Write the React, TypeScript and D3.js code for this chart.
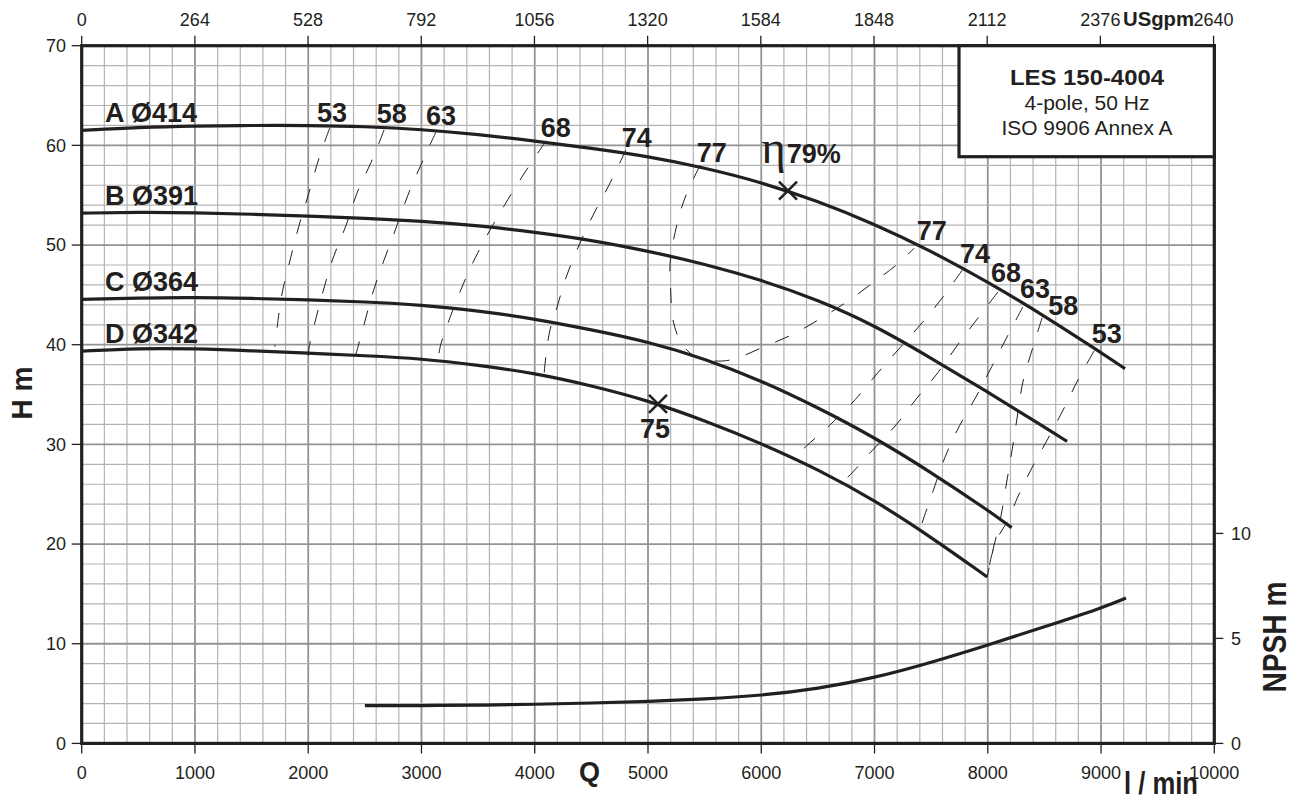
import React, { useEffect } from 'react';
import * as d3 from 'd3';

// ---------- axis ticks ----------
const flowTicks = [0, 1000, 2000, 3000, 4000, 5000, 6000, 7000, 8000, 9000, 10000];
const usgpmTicks = [0, 264, 528, 792, 1056, 1320, 1584, 1848, 2112, 2376, 2640];
const headTicks = [0, 10, 20, 30, 40, 50, 60, 70];
const npshTicks = [0, 5, 10];

// ---------- head curves [Q l/min, H m] ----------
const curveA: [number, number][] = [
  [0, 61.5], [500, 61.8], [1000, 61.95], [1500, 62.0], [2000, 62.0], [2500, 61.9], [3000, 61.6],
  [3500, 61.1], [4000, 60.45], [4500, 59.7], [5000, 58.9], [5500, 57.75], [6000, 56.3], [6500, 54.4],
  [7000, 52.1], [7500, 49.4], [8000, 46.3], [8500, 42.9], [9000, 39.2], [9212, 37.6],
];
const curveB: [number, number][] = [
  [0, 53.2], [500, 53.3], [1000, 53.25], [1500, 53.1], [2000, 52.9], [2500, 52.7], [3000, 52.4],
  [3500, 51.95], [4000, 51.3], [4500, 50.5], [5000, 49.4], [5500, 48.1], [6000, 46.5], [6500, 44.5],
  [7000, 41.95], [7500, 38.65], [8000, 35.25], [8500, 31.75], [8700, 30.3],
];
const curveC: [number, number][] = [
  [0, 44.55], [500, 44.7], [1000, 44.75], [1500, 44.65], [2000, 44.5], [2500, 44.3], [3000, 44.0],
  [3500, 43.4], [4000, 42.6], [4500, 41.5], [5000, 40.3], [5500, 38.6], [6000, 36.4], [6500, 33.7],
  [7000, 30.7], [7500, 27.2], [8000, 23.4], [8211, 21.65],
];
const curveD: [number, number][] = [
  [0, 39.35], [500, 39.65], [1000, 39.6], [1500, 39.4], [2000, 39.15], [2500, 38.9], [3000, 38.6],
  [3500, 37.95], [4000, 37.15], [4500, 35.9], [5000, 34.4], [5500, 32.4], [6000, 30.1], [6500, 27.5],
  [7000, 24.4], [7500, 20.7], [7995, 16.7],
];
const headLabels = ['A Ø414', 'B Ø391', 'C Ø364', 'D Ø342'];
const headLabelH = [62.38, 54.02, 45.39, 40.18];

// ---------- NPSH curve [Q l/min, NPSH m] ----------
const npshCurve: [number, number][] = [
  [2500, 1.8], [3000, 1.8], [3500, 1.82], [4000, 1.86], [4500, 1.92], [5000, 2.0], [5500, 2.11],
  [6000, 2.28], [6500, 2.6], [7000, 3.12], [7500, 3.85], [8000, 4.68], [8500, 5.55], [9000, 6.43], [9220, 6.92],
];

// ---------- iso-efficiency lines [Q, H] ----------
const eff53Left: [number, number][] = [[2190, 61.75], [2095, 58.7], [2005, 55.2], [1920, 52.0], [1840, 48.5], [1770, 45.2], [1725, 41.7], [1705, 39.8]];
const eff58Left: [number, number][] = [[2670, 61.55], [2555, 58.3], [2430, 55.2], [2335, 52.0], [2220, 48.7], [2130, 45.3], [2050, 41.8], [2005, 39.5], [2000, 38.0]];
const eff63Left: [number, number][] = [[3130, 61.4], [3005, 58.3], [2880, 55.0], [2775, 51.7], [2670, 48.5], [2570, 45.2], [2485, 41.7], [2420, 39.0], [2395, 38.0]];
const eff68Left: [number, number][] = [[4100, 60.45], [3925, 57.5], [3765, 54.6], [3605, 51.5], [3465, 48.5], [3340, 45.3], [3235, 42.2], [3170, 40.0], [3130, 37.5]];
const eff74Left: [number, number][] = [[4805, 59.55], [4655, 56.0], [4515, 53.0], [4380, 49.7], [4275, 46.7], [4190, 43.5], [4135, 41.5], [4100, 39.0], [4075, 36.1]];
const eff77Loop: [number, number][] = [
  [5460, 58.0], [5325, 54.7], [5240, 51.3], [5195, 48.2], [5200, 45.5], [5220, 42.5], [5280, 40.5],
  [5390, 39.0], [5565, 38.4], [5740, 38.5], [6005, 39.7], [6270, 41.0], [6520, 42.6], [6755, 44.3],
  [6985, 46.2], [7225, 48.3], [7350, 49.7],
];
const eff74Right: [number, number][] = [[7775, 47.5], [7605, 44.8], [7420, 42.2], [7225, 39.7], [7030, 37.2], [6830, 34.5], [6625, 32.15], [6400, 29.85], [6300, 28.75]];
const eff68Right: [number, number][] = [[8090, 45.3], [7915, 42.7], [7735, 40.0], [7560, 37.2], [7375, 34.65], [7190, 31.95], [6985, 29.45], [6785, 26.95], [6675, 25.75]];
const eff63Right: [number, number][] = [[8310, 43.8], [8180, 41.0], [8035, 37.8], [7895, 34.75], [7745, 31.75], [7620, 28.65], [7515, 25.25], [7420, 22.1], [7395, 21.1]];
const eff58Right: [number, number][] = [[8480, 42.7], [8400, 39.8], [8310, 36.25], [8260, 32.75], [8215, 29.45], [8160, 25.75], [8110, 22.4], [8045, 19.4], [7995, 16.7]];
const eff53Right: [number, number][] = [[8940, 39.4], [8795, 36.45], [8665, 33.45], [8525, 30.45], [8390, 27.65], [8260, 24.6], [8180, 22.4], [8090, 20.7], [8035, 18.9], [7995, 16.7]];

// efficiency labels: text, Q, H (anchor = left baseline)
const effLabelText = ['53', '58', '63', '68', '74', '77', '77', '74', '68', '63', '58', '53', '75'];
const effLabelQ = [2077, 2605, 3040, 4053, 4768, 5430, 7372, 7755, 8028, 8284, 8534, 8917, 4929];
const effLabelH = [62.38, 62.28, 62.05, 60.88, 59.87, 58.37, 50.51, 48.17, 46.33, 44.66, 42.99, 40.15, 30.61];

// best efficiency points
const bepPoints: [number, number][] = [[6236, 55.46], [5088, 34.06]];

const legendLines = ['LES 150-4004', '4-pole, 50 Hz', 'ISO 9906 Annex A'];

const INK = '#231f20';
const FONT = '"Liberation Sans", Arial, Helvetica, sans-serif';

export default function App() {
  useEffect(() => {
    document.body.style.margin = '0';
    document.body.style.overflow = 'hidden';
  }, []);

  const X0 = 81.7, X1 = 1214.3, Y0 = 743.4, Y1 = 45.7;
  const x = d3.scaleLinear().domain([0, 10000]).range([X0, X1]);
  const xUS = d3.scaleLinear().domain([0, 10000 * 0.264172]).range([X0, X1]);
  const y = d3.scaleLinear().domain([0, 70]).range([Y0, Y1]);
  const yN = d3.scaleLinear().domain([0, (Y0 - Y1) / 21.0]).range([Y0, Y1]);

  const headLine = d3.line<[number, number]>().x(d => x(d[0])).y(d => y(d[1])).curve(d3.curveBasis);
  const effLine = d3.line<[number, number]>().x(d => x(d[0])).y(d => y(d[1])).curve(d3.curveCatmullRom.alpha(0.5));
  const npshLine = d3.line<[number, number]>().x(d => x(d[0])).y(d => yN(d[1])).curve(d3.curveBasis);

  const vGrid = d3.range(200, 10000, 200);
  const hGrid = d3.range(2, 70, 2);

  const effLines = [eff53Left, eff58Left, eff63Left, eff68Left, eff74Left, eff77Loop, eff74Right, eff68Right, eff63Right, eff58Right, eff53Right];
  const heads = [curveA, curveB, curveC, curveD];

  const boxL = 959, boxB = 156.7;

  return (
    <div style={{ position: 'absolute', left: 0, top: 0, width: 1292, height: 797, overflow: 'hidden', background: '#fff' }}>
      <svg width={1292} height={797} style={{ display: 'block' }} fontFamily={FONT}>
        <rect x={0} y={0} width={1292} height={797} fill="#fff" />
        {/* grid */}
        {vGrid.map(v => (
          <line key={'v' + v} x1={x(v)} x2={x(v)} y1={Y1} y2={Y0}
            stroke={v % 1000 === 0 ? '#939393' : '#b3b3b3'} strokeWidth={v % 1000 === 0 ? 1.8 : 1.2} />
        ))}
        {hGrid.map(v => (
          <line key={'h' + v} x1={X0} x2={X1} y1={y(v)} y2={y(v)}
            stroke={v % 10 === 0 ? '#939393' : '#b3b3b3'} strokeWidth={v % 10 === 0 ? 1.8 : 1.2} />
        ))}

        {/* efficiency dashed lines */}
        {effLines.map((pts, i) => (
          <path key={'e' + i} d={effLine(pts) || ''} fill="none" stroke={INK} strokeWidth={1} strokeDasharray="15 17" />
        ))}

        {/* head curves */}
        {heads.map((pts, i) => (
          <path key={'c' + i} d={headLine(pts) || ''} fill="none" stroke={INK} strokeWidth={3.2} />
        ))}
        {/* NPSH curve */}
        <path d={npshLine(npshCurve) || ''} fill="none" stroke={INK} strokeWidth={3.2} />

        {/* BEP markers */}
        {bepPoints.map((p, i) => {
          const cx = x(p[0]), cy = y(p[1]), s = 9;
          return (
            <g key={'m' + i} stroke={INK} strokeWidth={2.6}>
              <line x1={cx - s} y1={cy - s} x2={cx + s} y2={cy + s} />
              <line x1={cx - s} y1={cy + s} x2={cx + s} y2={cy - s} />
            </g>
          );
        })}

        {/* frame */}
        <rect x={X0} y={Y1} width={X1 - X0} height={Y0 - Y1} fill="none" stroke={INK} strokeWidth={3.2} />

        {/* legend box */}
        <rect x={boxL} y={Y1} width={X1 - boxL} height={boxB - Y1} fill="#fff" stroke={INK} strokeWidth={3.2} />
        <text x={1087} y={85} textAnchor="middle" fontWeight="bold" fontSize={22} fill={INK} textLength={154} lengthAdjust="spacingAndGlyphs">{legendLines[0]}</text>
        <text x={1087} y={110} textAnchor="middle" fontSize={20} fill={INK} textLength={125} lengthAdjust="spacingAndGlyphs">{legendLines[1]}</text>
        <text x={1087} y={135} textAnchor="middle" fontSize={20} fill={INK} textLength={171} lengthAdjust="spacingAndGlyphs">{legendLines[2]}</text>

        {/* bottom axis */}
        {flowTicks.map(t => (
          <g key={'b' + t}>
            <line x1={x(t)} x2={x(t)} y1={Y0} y2={Y0 + 10} stroke={INK} strokeWidth={1.3} />
            <text x={x(t)} y={779} textAnchor="middle" fontSize={18} fill={INK}>{t}</text>
          </g>
        ))}
        {/* top axis */}
        {usgpmTicks.map(t => (
          <g key={'t' + t}>
            <line x1={xUS(t)} x2={xUS(t)} y1={Y1 - 10} y2={Y1} stroke={INK} strokeWidth={1.3} />
            <text x={xUS(t)} y={25.7} textAnchor="middle" fontSize={18} fill={INK}>{t}</text>
          </g>
        ))}
        <text x={1123} y={25.7} fontSize={20} fontWeight="bold" fill={INK} textLength={71} lengthAdjust="spacingAndGlyphs">USgpm</text>

        {/* left axis */}
        {headTicks.map(t => (
          <g key={'l' + t}>
            <line x1={X0 - 10} x2={X0} y1={y(t)} y2={y(t)} stroke={INK} strokeWidth={1.3} />
            <text x={66} y={y(t)} dy="0.35em" textAnchor="end" fontSize={18} fill={INK}>{t}</text>
          </g>
        ))}
        {/* right axis (NPSH) */}
        {npshTicks.map(t => (
          <g key={'r' + t}>
            <line x1={X1} x2={X1 + 9} y1={yN(t)} y2={yN(t)} stroke={INK} strokeWidth={1.3} />
            <text x={1231} y={yN(t)} dy="0.35em" fontSize={18} fill={INK}>{t}</text>
          </g>
        ))}

        {/* axis titles */}
        <text transform="translate(32,393) rotate(-90)" textAnchor="middle" fontWeight="bold" fontSize={30} fill={INK} textLength={53} lengthAdjust="spacingAndGlyphs">H m</text>
        <text transform="translate(1286,637) rotate(-90)" textAnchor="middle" fontWeight="bold" fontSize={34} fill={INK} textLength={111} lengthAdjust="spacingAndGlyphs">NPSH m</text>
        <text x={579} y={781} fontWeight="bold" fontSize={27} fill={INK}>Q</text>
        <text x={1124} y={794} fontWeight="bold" fontSize={32} fill={INK} textLength={74} lengthAdjust="spacingAndGlyphs">l / min</text>

        {/* head curve labels */}
        {headLabels.map((t, i) => (
          <text key={'hl' + i} x={105} y={y(headLabelH[i])} fontWeight="bold" fontSize={27} fill={INK}>{t}</text>
        ))}
        {/* efficiency labels */}
        {effLabelText.map((t, i) => (
          <text key={'el' + i} x={x(effLabelQ[i])} y={y(effLabelH[i])} fontWeight="bold" fontSize={27} fill={INK}>{t}</text>
        ))}
        <text x={x(6000)} y={y(58.21)} fontFamily='"Liberation Serif", "DejaVu Serif", serif' fontSize={47} fill={INK}>η</text>
        <text x={x(6224)} y={y(58.21)} fontWeight="bold" fontSize={27} fill={INK}>79%</text>
      </svg>
    </div>
  );
}
